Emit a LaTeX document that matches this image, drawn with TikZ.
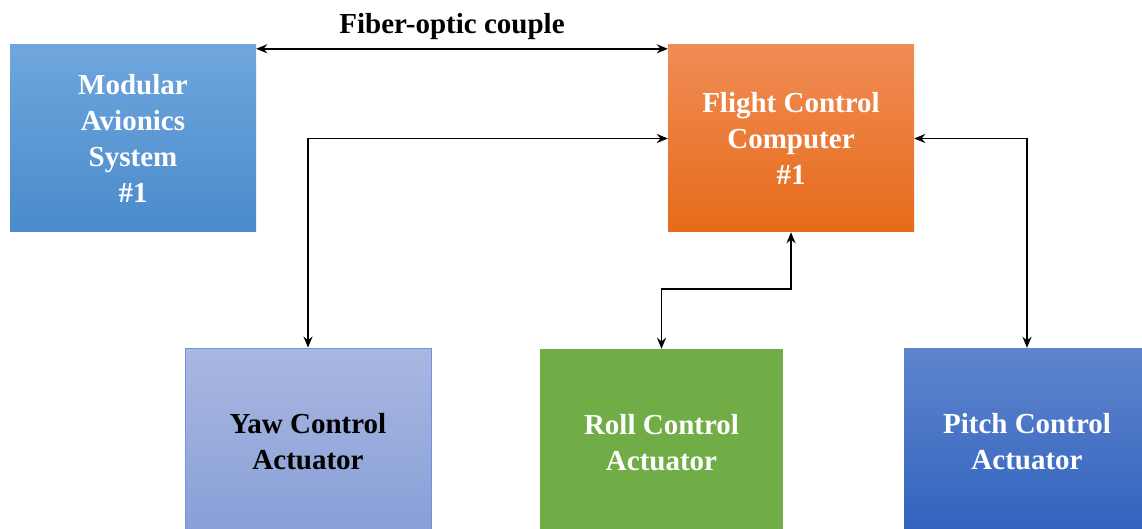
\documentclass[tikz,border=0pt]{standalone}
\usepackage{fontspec}
\setmainfont{Liberation Serif}
\usetikzlibrary{arrows.meta}
\definecolor{masTop}{HTML}{6FA6DD}
\definecolor{masBot}{HTML}{4A8BCB}
\definecolor{fccTop}{HTML}{F08C55}
\definecolor{fccBot}{HTML}{E66B1A}
\definecolor{yawTop}{HTML}{A9B7E1}
\definecolor{yawBot}{HTML}{879FD7}
\definecolor{yawLine}{HTML}{6F93DA}
\definecolor{rollFill}{HTML}{70AD47}
\definecolor{pitTop}{HTML}{5F84CD}
\definecolor{pitBot}{HTML}{3063BE}
\tikzset{
  blockbox/.style={rectangle, inner sep=0pt, minimum width=246pt, minimum height=187pt,
    align=center, font=\bfseries\fontsize{29}{36}\selectfont, text=white},
  link/.style={line width=1.9pt, {Stealth[length=11pt,width=9pt]}-{Stealth[length=11pt,width=9pt]}}
}
\begin{document}
\begin{tikzpicture}[x=1pt,y=-1pt]
\useasboundingbox (0,0) rectangle (1142,529);
\clip (0,0) rectangle (1142,529);
\node[blockbox, top color=masTop, bottom color=masBot] (mas) at (133,138.5) {Modular\\Avionics\\System\\\#1};
\node[blockbox, top color=fccTop, bottom color=fccBot] (fcc) at (791,138.5) {Flight Control\\Computer\\\#1};
\node[blockbox, minimum height=188pt, top color=yawTop, bottom color=yawBot, draw=yawLine, line width=0.8pt, text=black] (yaw) at (308,442) {Yaw Control\\Actuator};
\node[blockbox, minimum width=243pt, minimum height=188pt, fill=rollFill] (roll) at (661.5,443) {Roll Control\\Actuator};
\node[blockbox, minimum height=188pt, top color=pitTop, bottom color=pitBot] (pitch) at (1027,442) {Pitch Control\\Actuator};
\node[font=\bfseries\fontsize{29}{36}\selectfont, inner sep=0pt] (lbl) at (452,27) {Fiber-optic couple};
\draw[link] ([yshift=-4pt]mas.north east) -- ([yshift=-4pt]fcc.north west);
\draw[link] (fcc.west) -| (yaw.north);
\draw[link] (fcc.east) -| (pitch.north);
\coordinate (rj) at (661.5,289);
\draw[link] (fcc.south) |- (rj) -- (roll.north);
\end{tikzpicture}
\end{document}
